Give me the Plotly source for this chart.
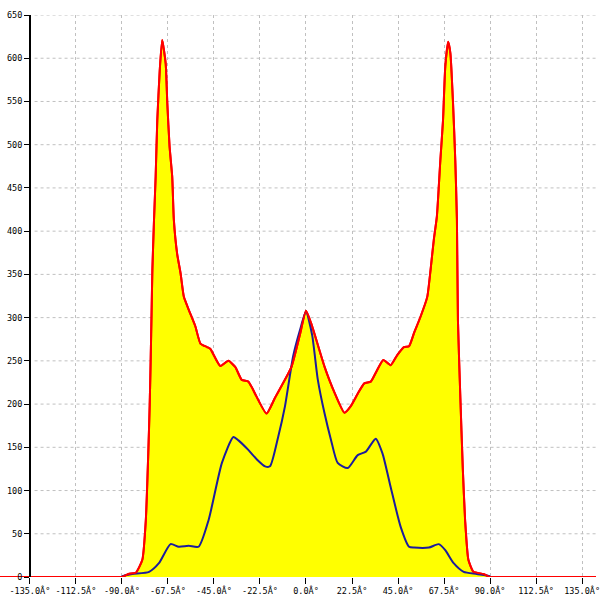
import plotly.graph_objects as go

# ---- data ----
red_angle = [-180, -150, -120, -100, -93, -90, -86.8, -83.2, -80, -78.3, -77.1, -76.4, -75.9,
             -75.5, -75.1, -74.3,
             -73.5, -72.7, -71.5, -70.3, -68.6, -67.8, -66.7, -65.4, -64.6, -63, -61.3,
             -59.7, -57.3, -54.1, -51.6, -48.4, -46.8, -41.9, -37.9, -34.6, -31.4, -28.2,
             -26.6, -19.3, -15.2, -7.1, -3.0, 0, 2.6, 9.1, 14.0, 18.8, 22.0, 25.3, 28.5,
             31.7, 34.5, 37.8, 41.4, 44.7, 47.9, 50.4, 52.8, 56.0, 59.3, 60.9, 62.5, 64.0,
             65.7, 67.0, 68.1, 69.5, 70.6, 71.9, 73.0, 73.8, 74.3, 75.4, 76.7, 77.8, 79.4,
             81.9, 86.8, 90, 93, 100, 120, 150, 180]
red_vals = [0, 0, 0, 0, 0, 0, 3.5, 5, 20, 66, 143, 200, 255, 305, 355, 413,
            463, 528, 586, 621, 594, 548, 498, 463, 413, 374, 351,
            324, 309, 290, 270, 266, 264, 244, 250, 243, 228, 226,
            220, 189, 207, 243, 280, 308, 293, 243, 213, 190, 198, 212, 224,
            226, 238, 251, 245, 257, 266, 267, 282, 301, 324, 355, 390, 417,
            482, 528, 590, 619, 606, 548, 482, 413, 297, 213, 124, 66, 20,
            6, 3.5, 0, 0, 0, 0, 0, 0]

blue_angle = [-180, -150, -120, -100, -93, -90, -89.7, -85, -76.7, -71.9, -66.2, -62.2, -57.3,
              -52.5, -47.6, -41.1,
              -35.5, -33.0, -28.2, -24.0, -20.0, -17.6, -13.6, -10.3, -6.3, -3.0, 0, 3.0,
              5.8, 9.1, 12.3, 15.5, 20.4, 25.3, 29.3, 34.1, 37.4, 41.4, 46.3, 50.4, 52.8,
              60.1, 64.9, 68.1, 72.2, 77.1, 83.5, 89.7, 90, 93, 100, 120, 150, 180]
blue_vals = [0, 0, 0, 0, 0, 0, 1, 3.5, 6, 16, 38, 35, 36, 35, 66, 132,
             162, 158, 147, 136, 128, 128, 162, 197, 255, 285, 307, 280,
             228, 189, 158, 132, 126, 141, 145, 160, 143, 104, 58, 35, 34,
             34, 38, 31, 16, 6, 3.5, 1, 0, 0, 0, 0, 0, 0]

x_ticks = [-135.0, -112.5, -90.0, -67.5, -45.0, -22.5, 0.0, 22.5, 45.0, 67.5, 90.0, 112.5, 135.0]
x_labels = ["%.1fÂ°" % v for v in x_ticks]
y_ticks = list(range(0, 651, 50))
y_labels = [str(v) for v in y_ticks]

font = dict(family="DejaVu Sans Mono", size=8.5, color="#000000")

fig = go.Figure()
fig.add_trace(go.Scatter(x=red_angle, y=red_vals, mode="lines", fill="tozeroy",
                         fillcolor="#ffff00",
                         line=dict(color="#ff0000", width=2, shape="spline", smoothing=0.5),
                         hoverinfo="skip", cliponaxis=False))
fig.add_trace(go.Scatter(x=blue_angle, y=blue_vals, mode="lines",
                         line=dict(color="#1c1c9c", width=2, shape="spline", smoothing=0.6),
                         hoverinfo="skip"))
fig.add_trace(go.Scatter(x=red_angle, y=red_vals, mode="lines",
                         line=dict(color="#ff0000", width=2, shape="spline", smoothing=0.5),
                         hoverinfo="skip", cliponaxis=False))

for v in y_ticks[1:]:
    fig.add_shape(type="line", xref="paper", x0=0.058, x1=1, yref="y", y0=v, y1=v,
                  line=dict(color="#c0c0c0", width=1, dash="3px,3px"), layer="below")

fig.update_layout(
    width=600, height=600,
    margin=dict(l=0, r=0, t=15, b=23),
    paper_bgcolor="#ffffff", plot_bgcolor="#ffffff",
    showlegend=False,
    xaxis=dict(range=[-149.6, 141.8], tickvals=x_ticks, ticktext=x_labels,
               showgrid=True, gridcolor="#c0c0c0", griddash="3px,3px", gridwidth=1,
               zeroline=False, showline=False, ticks="outside", ticklen=6,
               tickcolor="#000000", tickfont=font, ticklabeloverflow="allow",
               fixedrange=True),
    yaxis=dict(range=[0, 650], tickvals=y_ticks, ticktext=y_labels,
               anchor="free", position=0.05, showgrid=False, zeroline=False,
               showline=True, linecolor="#000000", linewidth=1.5,
               ticks="outside", ticklen=5, tickcolor="#000000", tickfont=font,
               fixedrange=True),
)

fig.write_html("out.html", post_script="document.body.style.margin='0';",
               config={"displayModeBar": False})
